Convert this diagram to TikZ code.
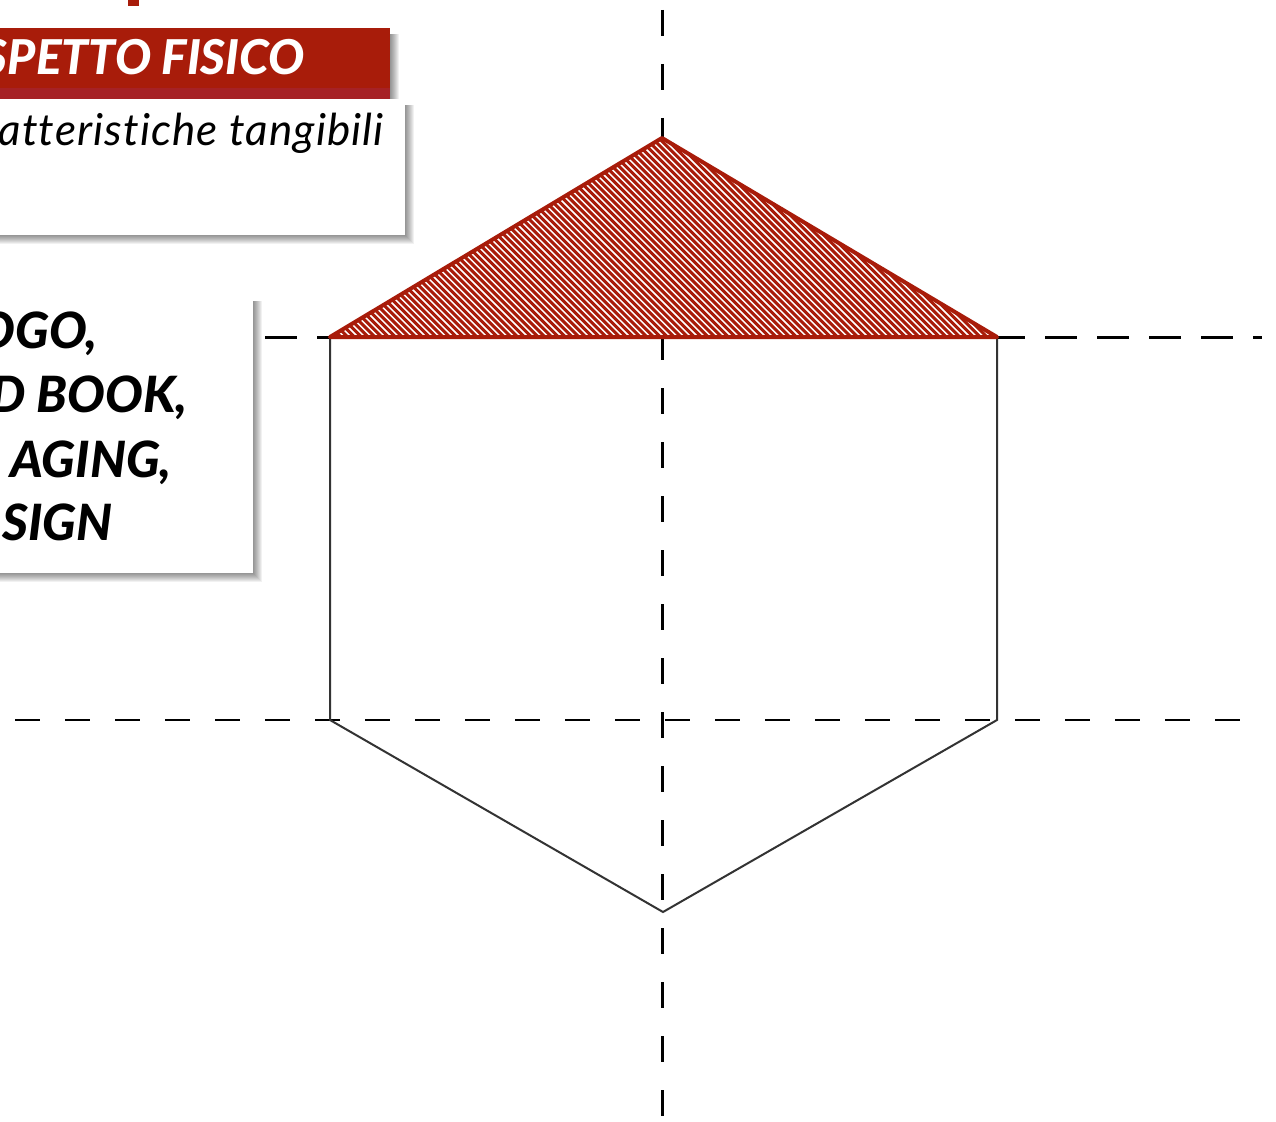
\documentclass[tikz,border=0pt]{standalone}
\usepackage{fontspec}
\setmainfont{Lato}[BoldFont=* Black, BoldItalicFont=* Black Italic]
\definecolor{brandred}{HTML}{A81C0A}
\definecolor{stripered}{HTML}{A62125}
\definecolor{edgegrey}{HTML}{333333}
\newcommand\softshadow[4]{%
  \foreach \k in {0,...,9}{%
    \fill[black, opacity=0.055] (#1+6,#2+6) rectangle (#3+\k,#4+\k);
  }%
}
\begin{document}
\begin{tikzpicture}[x=1pt,y=-1pt,
  axis/.style={line width=3pt, dash pattern=on 26pt off 28pt},
  hexedge/.style={draw=edgegrey, line width=2pt, line join=miter},
]
\useasboundingbox (0,0) rectangle (1276,1121);
\clip (0,0) rectangle (1276,1121);
\fill[white] (0,0) rectangle (1276,1121);

% top red mark
\fill[brandred] (128,0) rectangle (139,6);

% axes
\draw[axis, dash phase=-10pt] (662,0) coordinate (vtop) -- (662,1121) coordinate (vbot);
\draw[line width=3pt, dash pattern=on 32pt off 20pt] (265,337) coordinate (hl) -- (1262,337) coordinate (hr);
\draw[line width=2pt, dash pattern=on 25pt off 25pt] (15,720) coordinate (ml) -- (1255,720) coordinate (mr);

% hexagon
\coordinate (A) at (330,337);
\coordinate (T) at (662,138);
\coordinate (B) at (997,337);
\coordinate (C) at (997,720);
\coordinate (D) at (663,912);
\coordinate (E) at (330,720);
\draw[hexedge] (A) -- (T) -- (B) -- (C) -- (D) -- (E) -- cycle;

% hatched red triangle
\begin{scope}
  \clip (A) -- (T) -- (B) -- cycle;
  \fill[white] (A) -- (T) -- (B) -- cycle;
  \foreach \i in {0,...,160}{
    \draw[brandred, line width=3pt] (100+\i*6.8,130) -- ++(220,220);
  }
\end{scope}
\draw[brandred, line width=4pt, line join=round] (A) -- (T) -- (B) -- cycle;

% banner
\softshadow{-20}{28}{390}{99}
\fill[brandred] (-20,28) rectangle (390,99);
\fill[stripered] (-20,88) rectangle (390,99);
\node[anchor=base east, text=white, font=\fontsize{48}{56}\selectfont\bfseries\itshape, inner sep=0pt] (title) at (305,75) {SPETTO FISICO};

% first white panel
\softshadow{-20}{99}{405}{235}
\fill[white] (-20,99) rectangle (405,235);
\node[anchor=base east, font=\fontsize{44}{52}\selectfont\itshape\addfontfeatures{Ligatures=NoCommon, LetterSpace=2.5}, inner sep=0pt] (desc) at (384,145) {atteristiche tangibili};

% second white panel
\softshadow{-20}{295}{253}{573}
\fill[white] (-20,295) rectangle (253,573);
\begin{scope}[every node/.style={anchor=base east, font=\fontsize{50}{60}\selectfont\bfseries\itshape, inner sep=0pt}]
  \node (l1) at (98,348) {OGO,};
  \node (l2) at (188,412) {D BOOK,};
  \node (l3) at (172,477) {AGING,};
  \node (l4) at (113,540) {SIGN};
\end{scope}
\end{tikzpicture}
\end{document}
